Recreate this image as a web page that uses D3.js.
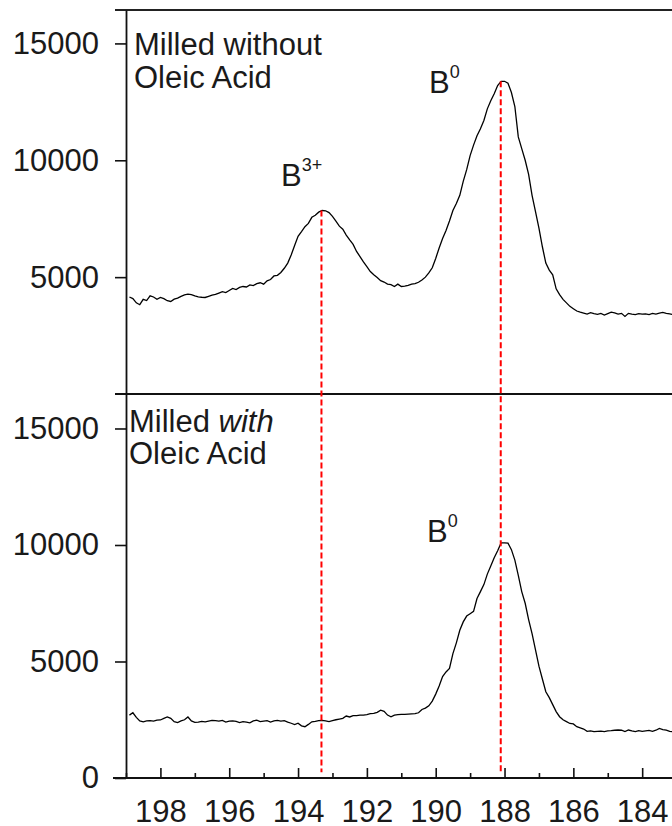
<!DOCTYPE html>
<html>
<head>
<meta charset="utf-8">
<script src="https://cdn.jsdelivr.net/npm/d3@7"></script>
<style>
  html, body { margin: 0; padding: 0; background: #fff; }
  svg { display: block; }
  text { font-family: "Liberation Sans", Arial, sans-serif; fill: #1a1a1a; }
</style>
</head>
<body>
<svg id="chart" width="672" height="826"></svg>
<script>
// Binding energy grid (eV), 0.1 eV steps from 198.9 down to 183.0
const energyStart = 198.9;
const energyStep = 0.1;

// B 1s counts, powder milled without oleic acid
const countsWithout = [
  4150, 4080, 3900, 3820, 4050, 4000, 4200, 4150, 4050, 4130,
  4080, 3990, 3960, 4060, 4100, 4180, 4240, 4270, 4250, 4200,
  4160, 4140, 4130, 4180, 4230, 4260, 4320, 4380, 4340, 4430,
  4520, 4470, 4560, 4600, 4580, 4670, 4640, 4720, 4760, 4700,
  4840, 4900, 5050, 5080, 5200, 5380, 5600, 5950, 6350, 6750,
  6950, 7160, 7300, 7560, 7650, 7780, 7850, 7840, 7760, 7600,
  7400, 7180, 7050, 6800, 6590, 6400, 6100, 5880, 5650, 5450,
  5240, 5100, 4980, 4850, 4790, 4700, 4680, 4600, 4700, 4600,
  4620, 4650, 4700, 4720, 4780, 4880, 5000, 5180, 5400, 5800,
  6250, 6650, 7000, 7400, 7850, 8150, 8500, 9100, 9600, 10200,
  10650, 11050, 11350, 11700, 12200, 12550, 12850, 13200, 13380, 13380,
  13300, 12900, 12300, 11000, 10500, 10000, 9400, 8500, 7800, 7100,
  6300, 5600, 5300, 5100, 4500, 4250, 4050, 3900, 3750, 3650,
  3550, 3500, 3460, 3420, 3480, 3440, 3410, 3450, 3380, 3440,
  3500, 3470, 3420, 3450, 3320, 3450, 3420, 3400, 3440, 3420,
  3430, 3400, 3450, 3420, 3460, 3490, 3450, 3430, 3400, 3430
];

// B 1s counts, powder milled with oleic acid
const countsWith = [
  2700, 2800, 2600, 2450, 2410, 2450, 2460, 2440, 2480, 2490,
  2560, 2620, 2560, 2420, 2380, 2450, 2500, 2620, 2450, 2390,
  2400, 2430, 2410, 2440, 2470, 2460, 2440, 2470, 2400, 2440,
  2450, 2430, 2380, 2420, 2400, 2370, 2450, 2480, 2420, 2440,
  2460, 2400, 2450, 2470, 2440, 2460, 2400, 2350, 2290, 2350,
  2240, 2200, 2300, 2410, 2430, 2460, 2470, 2450, 2420, 2460,
  2500, 2530, 2560, 2660, 2620, 2680, 2680, 2700, 2700, 2720,
  2760, 2770, 2820, 2910, 2860, 2700, 2630, 2700, 2720, 2730,
  2730, 2740, 2750, 2760, 2800, 2940, 3000, 3100, 3300, 3600,
  3950, 4350, 4550, 4700, 5340, 5800, 6340, 6700, 6950, 7050,
  7150, 7700, 8000, 8300, 8750, 9100, 9450, 9750, 10090, 10090,
  10080, 9800, 9350, 8700, 8000, 7500, 6800, 6200, 5500, 4800,
  4250, 3700, 3450, 3150, 2850, 2630, 2500, 2420, 2340, 2320,
  2200, 2150, 2100, 2000, 2020, 1990, 2000, 2010, 1990, 2020,
  2030, 2050, 2060, 2050, 1990, 2060, 2020, 1990, 2030, 2000,
  2020, 2040, 2000, 2050, 2130, 2080, 2050, 2000, 1980, 1990
];

// Axis ticks
const xMajorTicks = [198, 196, 194, 192, 190, 188, 186, 184];
const xMinorTicks = [199, 197, 195, 193, 191, 189, 187, 185, 183];
const yTicksTop = [5000, 10000, 15000];
const yTicksBottom = [0, 5000, 10000, 15000];

// Peak markers: position (eV), height in the upper panel, label parts
const peakEnergies = [193.32, 188.11];
const peakTopCounts = [7850, 13380];
const peakBase = ["B", "B"];
const peakSup = ["3+", "0"];

const W = 672;
const svg = d3.select("#chart");

const x = d3.scaleLinear().domain([199, 182]).range([126, 711]);
const yTop = d3.scaleLinear().domain([0, 16430]).range([394, 10]);
const yBot = d3.scaleLinear().domain([0, 16480]).range([778, 394]);

const energies = countsWithout.map((_, i) => +(energyStart - i * energyStep).toFixed(1));
const seriesTop = energies.map((e, i) => [e, countsWithout[i]]);
const seriesBot = energies.map((e, i) => [e, countsWith[i]]);

const FS = 31;

// Frame lines
svg.append("line").attr("x1", 115).attr("x2", W).attr("y1", yTop(16430)).attr("y2", yTop(16430))
  .attr("stroke", "#222").attr("stroke-width", 1.8);
svg.append("line").attr("x1", 115).attr("x2", W).attr("y1", yTop(0)).attr("y2", yTop(0))
  .attr("stroke", "#111").attr("stroke-width", 1.8);

// Y axes
function styleAxis(g) {
  g.selectAll("path.domain").attr("stroke", "#111").attr("stroke-width", 1.8);
  g.selectAll(".tick line").attr("stroke", "#111").attr("stroke-width", 1.6);
  g.selectAll(".tick text").attr("font-size", FS).attr("fill", "#1a1a1a")
    .attr("font-family", "'Liberation Sans', Arial, sans-serif");
}
svg.append("g").attr("transform", "translate(126,0)")
  .call(d3.axisLeft(yTop).tickValues(yTicksTop).tickSizeInner(11).tickSizeOuter(0).tickPadding(16).tickFormat(d3.format("d")))
  .call(styleAxis);
svg.append("g").attr("transform", "translate(126,0)")
  .call(d3.axisLeft(yBot).tickValues(yTicksBottom).tickSizeInner(11).tickSizeOuter(0).tickPadding(16).tickFormat(d3.format("d")))
  .call(styleAxis);

// X axis with inward ticks
const xAxisG = svg.append("g").attr("transform", "translate(0,778)")
  .call(d3.axisBottom(x).tickValues(xMajorTicks).tickSizeInner(-10).tickSizeOuter(0).tickPadding(22).tickFormat(d3.format("d")))
  .call(styleAxis);
xAxisG.select("path.domain").remove();
svg.append("line").attr("x1", 113).attr("x2", W).attr("y1", 778).attr("y2", 778)
  .attr("stroke", "#111").attr("stroke-width", 1.8);
svg.append("g").attr("transform", "translate(0,778)")
  .call(d3.axisBottom(x).tickValues(xMinorTicks).tickSizeInner(-5).tickSizeOuter(0).tickFormat(""))
  .call(g => { g.select("path.domain").remove(); g.selectAll(".tick line").attr("stroke", "#111").attr("stroke-width", 1.6); });

// Spectra
const lineTop = d3.line().x(d => x(d[0])).y(d => yTop(d[1]));
const lineBot = d3.line().x(d => x(d[0])).y(d => yBot(d[1]));
svg.append("path").datum(seriesTop).attr("d", lineTop)
  .attr("fill", "none").attr("stroke", "#000").attr("stroke-width", 1.3);
svg.append("path").datum(seriesBot).attr("d", lineBot)
  .attr("fill", "none").attr("stroke", "#000").attr("stroke-width", 1.3);

// Dashed peak guides
peakEnergies.forEach((e, i) => {
  svg.append("line")
    .attr("x1", x(e)).attr("x2", x(e))
    .attr("y1", yTop(peakTopCounts[i])).attr("y2", yBot(250))
    .attr("stroke", "#ff0000").attr("stroke-width", 2).attr("stroke-dasharray", "6,3");
});

// Peak labels
function peakLabel(px, py, base, sup) {
  const t = svg.append("text").attr("x", px).attr("y", py).attr("font-size", FS);
  t.append("tspan").text(base);
  t.append("tspan").attr("font-size", 18).attr("dy", -15).text(sup);
}
peakLabel(281, 186, peakBase[0], peakSup[0]);
peakLabel(429, 93, peakBase[1], peakSup[1]);
peakLabel(427, 542, peakBase[1], peakSup[1]);

// Panel titles
svg.append("text").attr("x", 134).attr("y", 55).attr("font-size", FS).text("Milled without");
svg.append("text").attr("x", 134).attr("y", 88).attr("font-size", FS).text("Oleic Acid");
const t2 = svg.append("text").attr("x", 129).attr("y", 432).attr("font-size", FS);
t2.append("tspan").text("Milled ");
t2.append("tspan").attr("font-style", "italic").text("with");
svg.append("text").attr("x", 129).attr("y", 464).attr("font-size", FS).text("Oleic Acid");
</script>
</body>
</html>
